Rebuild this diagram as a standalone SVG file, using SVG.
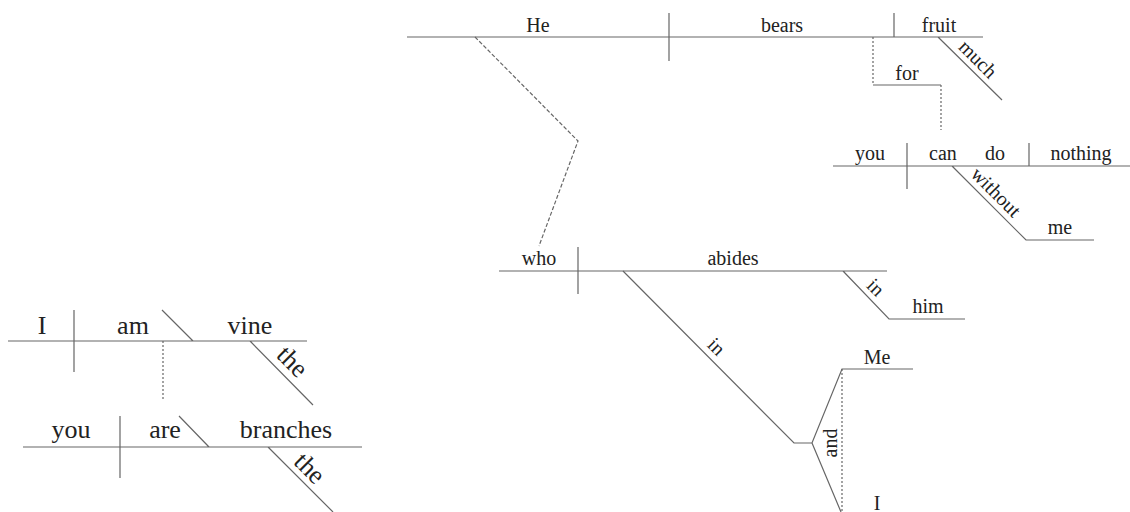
<svg xmlns="http://www.w3.org/2000/svg" width="1130" height="512" viewBox="0 0 1130 512" font-family="Liberation Serif, DejaVu Serif, serif">
<style>
.ln{stroke:#666;stroke-width:1.2;fill:none}
.dot{stroke:#666;stroke-width:1.2;fill:none;stroke-dasharray:2,2}
.dash{stroke:#666;stroke-width:1.2;fill:none;stroke-dasharray:4,2}
.big{font-size:26px;fill:#222;text-anchor:middle}
.sm{font-size:20px;fill:#222;text-anchor:middle}
</style>
<rect width="1130" height="512" fill="#fff"/>
<g id="clause-i-am-vine">
<path class="ln" d="M8 341H307M74 310V372M162 310L193 341M250 341L313 405"/>
<text class="big" x="42" y="334">I</text>
<text class="big" x="133" y="334">am</text>
<text class="big" x="250" y="334">vine</text>
<text class="big" transform="translate(281.5 372.5) rotate(45)" x="0" y="-7">the</text>
</g>
<g id="clause-you-are-branches">
<path class="ln" d="M23 447H362M120 416V478M179 416L209 447M268 447L333 512"/>
<text class="big" x="71" y="438">you</text>
<text class="big" x="165" y="438">are</text>
<text class="big" x="286" y="438">branches</text>
<text class="big" transform="translate(299.5 478.5) rotate(45)" x="0" y="-6">the</text>
</g>
<g id="clause-he-bears-fruit">
<path class="ln" d="M407 37H983M669 13V61M894 13V37M938 37L1002 100"/>
<text class="sm" x="538" y="32">He</text>
<text class="sm" x="782" y="32">bears</text>
<text class="sm" x="939" y="32">fruit</text>
<text class="sm" transform="translate(969 68) rotate(45)" x="0" y="-6">much</text>
</g>
<g id="for">
<path class="ln" d="M873 85H941"/>
<text class="sm" x="907" y="80">for</text>
</g>
<g id="clause-you-can-do-nothing">
<path class="ln" d="M833 166H1130M907 143V189M1029 143V166M952 166L1026 240H1094"/>
<text class="sm" x="870" y="160">you</text>
<text class="sm" x="943" y="160">can</text>
<text class="sm" x="995" y="160">do</text>
<text class="sm" x="1081" y="160">nothing</text>
<text class="sm" transform="translate(987 201) rotate(45)" x="0" y="-6">without</text>
<text class="sm" x="1060" y="234">me</text>
</g>
<g id="clause-who-abides">
<path class="ln" d="M499 271H887M578 247V294M843 271L889 319H965"/>
<text class="sm" x="539" y="265">who</text>
<text class="sm" x="733" y="265">abides</text>
<text class="sm" transform="translate(867.5 295.5) rotate(45)" x="0" y="-5">in</text>
<text class="sm" x="928" y="313">him</text>
</g>
<g id="in-me-and-i">
<path class="ln" d="M623 271L794 443H812L842 369H913M812 443L841 512"/>
<text class="sm" transform="translate(707.5 355.5) rotate(45)" x="0" y="-6">in</text>
<text class="sm" transform="translate(837 443) rotate(-90)" x="0" y="0">and</text>
<text class="sm" x="877" y="364">Me</text>
<text class="sm" x="877" y="510">I</text>
</g>
<g id="connectors">
<path class="dot" d="M163 341V401"/>
<path class="dot" d="M873 37V85"/>
<path class="dot" d="M941 85V130"/>
<path class="dot" d="M842 369V512"/>
<path class="dash" d="M475 37L578 141L539 246"/>
</g>
</svg>
